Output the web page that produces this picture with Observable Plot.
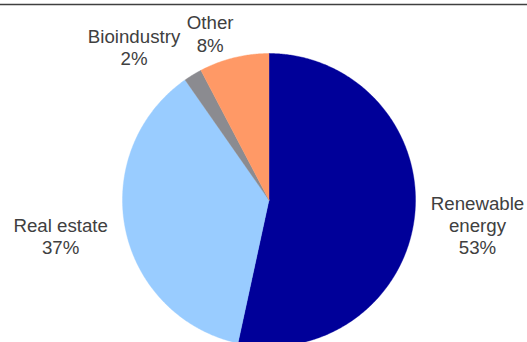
<!DOCTYPE html>
<html>
<head>
<meta charset="utf-8">
<script src="https://cdn.jsdelivr.net/npm/d3@7"></script>
<script src="https://cdn.jsdelivr.net/npm/@observablehq/plot@0.6"></script>
<style>
  html, body { margin: 0; padding: 0; background: #fff; }
  #chart { width: 527px; height: 342px; overflow: hidden; }
</style>
</head>
<body>
<div id="chart"></div>
<script>
// ---- data ----
const categories = ["Renewable\nenergy", "Real estate", "Bioindustry", "Other"];
const keys = ["Renewable energy", "Real estate", "Bioindustry", "Other"];
const shares = [53.4, 36.9, 2.0, 7.7];
const colors = ["#000099", "#99ccff", "#8b8b90", "#ff9966"];

// ---- label layout (radius in pie radii, angle shift in degrees) ----
const labelRadius = [1.433, 1.443, 1.3925, 1.206];
const labelShift = [0.6, 1.6, -10.1, -5.6];

// ---- build slice polygons in unit-circle coordinates (clockwise from top) ----
const total = d3.sum(shares);
const slices = [];
const labels = [];
let acc = 0;
shares.forEach((v, i) => {
  const a0 = acc / total * 2 * Math.PI;
  const a1 = (acc + v) / total * 2 * Math.PI;
  acc += v;
  slices.push({key: keys[i], px: 0, py: 0});
  const n = Math.max(2, Math.ceil((a1 - a0) / (Math.PI / 360)));
  for (let k = 0; k <= n; k++) {
    const a = a0 + (a1 - a0) * k / n;
    slices.push({key: keys[i], px: Math.sin(a), py: Math.cos(a)});
  }
  slices.push({key: keys[i], px: 0, py: 0});
  const am = (a0 + a1) / 2 + labelShift[i] * Math.PI / 180;
  labels.push({
    key: keys[i],
    lx: labelRadius[i] * Math.sin(am),
    ly: labelRadius[i] * Math.cos(am),
    text: categories[i] + "\n" + Math.round(v) + "%"
  });
});

const chart = Plot.plot({
  width: 527,
  height: 342,
  marginTop: 4,
  marginLeft: 0,
  marginRight: 0,
  marginBottom: 0,
  style: {fontFamily: "'Liberation Sans', Arial, sans-serif", background: "#fff"},
  x: {domain: [-1, 1], range: [122, 415], axis: null},
  y: {domain: [-1, 1], range: [346, 53], axis: null},
  color: {domain: keys, range: colors},
  marks: [
    Plot.frame({anchor: "top", stroke: "#404040", strokeWidth: 1.5}),
    Plot.line(slices, {x: "px", y: "py", z: "key", fill: "key", stroke: "key", strokeWidth: 0.4, curve: "linear"}),
    Plot.text(labels, {
      x: "lx", y: "ly", text: "text",
      fontSize: 18.7, lineHeight: 1.18,
      fill: "#404040", textAnchor: "middle"
    })
  ]
});
document.getElementById("chart").appendChild(chart);
</script>
</body>
</html>
